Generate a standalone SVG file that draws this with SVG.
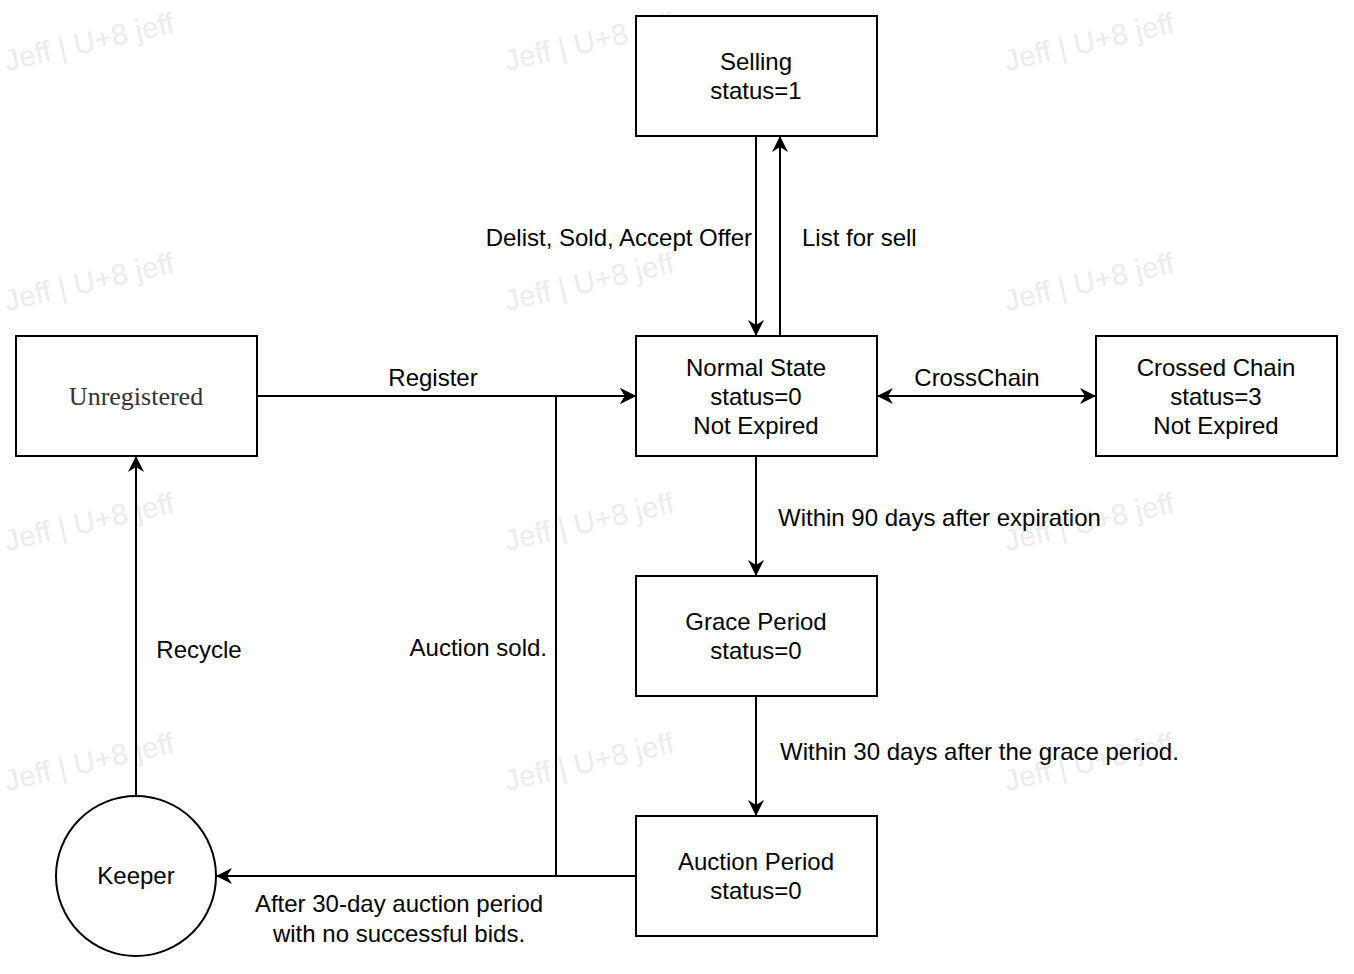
<svg xmlns="http://www.w3.org/2000/svg" width="1354" height="974" viewBox="0 0 1354 974">
<style>
.box{fill:#fff;stroke:#000;stroke-width:2}
.t{font-family:"Liberation Sans",Arial,sans-serif;font-size:24px;fill:#000}
.c{text-anchor:middle}
.e{text-anchor:end}
.wm{font-family:"Liberation Sans",Arial,sans-serif;font-size:29.5px;fill:#ececec}
.ln{fill:none;stroke:#000;stroke-width:2}
</style>
<defs>
<marker id="arr" viewBox="0 0 16 16" refX="16" refY="8" markerWidth="16" markerHeight="16" markerUnits="userSpaceOnUse" orient="auto-start-reverse">
<path d="M0,0 L16,8 L0,16 L5,8 Z" fill="#000"/>
</marker>
</defs>
<rect width="1354" height="974" fill="#fff"/>
<g id="watermark">
<text class="wm" transform="translate(7,71) rotate(-13)">Jeff | U+8 jeff</text>
<text class="wm" transform="translate(507,71) rotate(-13)">Jeff | U+8 jeff</text>
<text class="wm" transform="translate(1007,71) rotate(-13)">Jeff | U+8 jeff</text>
<text class="wm" transform="translate(7,311) rotate(-13)">Jeff | U+8 jeff</text>
<text class="wm" transform="translate(507,311) rotate(-13)">Jeff | U+8 jeff</text>
<text class="wm" transform="translate(1007,311) rotate(-13)">Jeff | U+8 jeff</text>
<text class="wm" transform="translate(7,551) rotate(-13)">Jeff | U+8 jeff</text>
<text class="wm" transform="translate(507,551) rotate(-13)">Jeff | U+8 jeff</text>
<text class="wm" transform="translate(1007,551) rotate(-13)">Jeff | U+8 jeff</text>
<text class="wm" transform="translate(7,791) rotate(-13)">Jeff | U+8 jeff</text>
<text class="wm" transform="translate(507,791) rotate(-13)">Jeff | U+8 jeff</text>
<text class="wm" transform="translate(1007,791) rotate(-13)">Jeff | U+8 jeff</text>
</g>
<g id="connectors">
<line class="ln" x1="756" y1="136" x2="756" y2="336" marker-end="url(#arr)"/>
<line class="ln" x1="780" y1="336" x2="780" y2="136" marker-end="url(#arr)"/>
<line class="ln" x1="257" y1="396" x2="636" y2="396" marker-end="url(#arr)"/>
<polyline class="ln" points="636,876 556,876 556,396 636,396" marker-end="url(#arr)"/>
<line class="ln" x1="877" y1="396" x2="1096" y2="396" marker-start="url(#arr)" marker-end="url(#arr)"/>
<line class="ln" x1="756" y1="456" x2="756" y2="576" marker-end="url(#arr)"/>
<line class="ln" x1="756" y1="696" x2="756" y2="816" marker-end="url(#arr)"/>
<line class="ln" x1="636" y1="876" x2="216" y2="876" marker-end="url(#arr)"/>
<line class="ln" x1="136" y1="796" x2="136" y2="456" marker-end="url(#arr)"/>
<text class="t e" x="752" y="246">Delist, Sold, Accept Offer</text>
<text class="t" x="802" y="246">List for sell</text>
<text class="t c" x="433" y="386">Register</text>
<text class="t c" x="977" y="386">CrossChain</text>
<text class="t" x="778" y="526">Within 90 days after expiration</text>
<text class="t" x="780" y="760">Within 30 days after the grace period.</text>
<text class="t c" x="199" y="658">Recycle</text>
<text class="t e" x="547" y="656">Auction sold.</text>
<text class="t c" x="399" y="912">After 30-day auction period</text>
<text class="t c" x="399" y="942">with no successful bids.</text>
</g>
<g id="selling">
<rect class="box" x="636" y="16" width="241" height="120"/>
<text class="t c" x="756" y="70">Selling</text>
<text class="t c" x="756" y="99">status=1</text>
</g>
<g id="normal">
<rect class="box" x="636" y="336" width="241" height="120"/>
<text class="t c" x="756" y="376">Normal State</text>
<text class="t c" x="756" y="405">status=0</text>
<text class="t c" x="756" y="434">Not Expired</text>
</g>
<g id="unregistered">
<rect class="box" x="16" y="336" width="241" height="120"/>
<text class="c" x="136" y="405" font-family="'Liberation Serif','Times New Roman',serif" font-size="26" fill="#333">Unregistered</text>
</g>
<g id="crossed">
<rect class="box" x="1096" y="336" width="241" height="120"/>
<text class="t c" x="1216" y="376">Crossed Chain</text>
<text class="t c" x="1216" y="405">status=3</text>
<text class="t c" x="1216" y="434">Not Expired</text>
</g>
<g id="grace">
<rect class="box" x="636" y="576" width="241" height="120"/>
<text class="t c" x="756" y="630">Grace Period</text>
<text class="t c" x="756" y="659">status=0</text>
</g>
<g id="auction">
<rect class="box" x="636" y="816" width="241" height="120"/>
<text class="t c" x="756" y="870">Auction Period</text>
<text class="t c" x="756" y="899">status=0</text>
</g>
<g id="keeper">
<circle class="box" cx="136" cy="876" r="80"/>
<text class="t c" x="136" y="884">Keeper</text>
</g>
</svg>
